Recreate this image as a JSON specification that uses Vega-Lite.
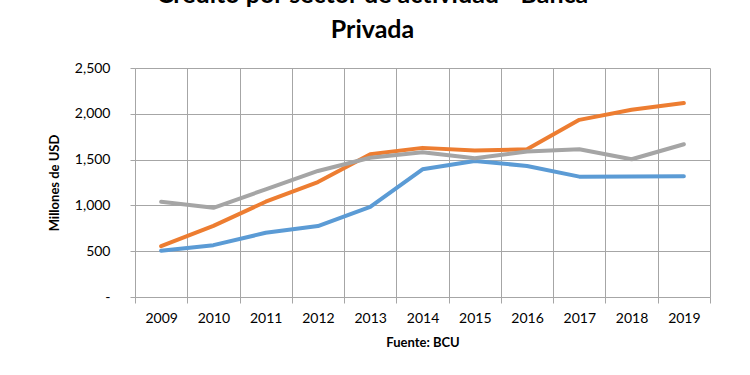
{
  "$schema": "https://vega.github.io/schema/vega-lite/v6.json",
  "width": 575,
  "height": 229,
  "autosize": {"type": "none"},
  "padding": {"left": 135, "top": 68, "right": 40, "bottom": 78},
  "background": "white",
  "title": {
    "text": ["Crédito por sector de actividad - Banca", "Privada"],
    "font": "Lato",
    "fontSize": 25,
    "fontWeight": "bold",
    "lineHeight": 35,
    "color": "#000000",
    "anchor": "middle",
    "dx": -50,
    "offset": 18
  },
  "data": {
    "values": [
      {"year": "2009", "serie": "Serie1", "value": 505},
      {"year": "2010", "serie": "Serie1", "value": 566},
      {"year": "2011", "serie": "Serie1", "value": 701},
      {"year": "2012", "serie": "Serie1", "value": 774},
      {"year": "2013", "serie": "Serie1", "value": 985},
      {"year": "2014", "serie": "Serie1", "value": 1394},
      {"year": "2015", "serie": "Serie1", "value": 1485},
      {"year": "2016", "serie": "Serie1", "value": 1431},
      {"year": "2017", "serie": "Serie1", "value": 1314},
      {"year": "2018", "serie": "Serie1", "value": 1316},
      {"year": "2019", "serie": "Serie1", "value": 1318},
      {"year": "2009", "serie": "Serie2", "value": 555},
      {"year": "2010", "serie": "Serie2", "value": 777},
      {"year": "2011", "serie": "Serie2", "value": 1040},
      {"year": "2012", "serie": "Serie2", "value": 1255},
      {"year": "2013", "serie": "Serie2", "value": 1558},
      {"year": "2014", "serie": "Serie2", "value": 1628},
      {"year": "2015", "serie": "Serie2", "value": 1599},
      {"year": "2016", "serie": "Serie2", "value": 1613},
      {"year": "2017", "serie": "Serie2", "value": 1934},
      {"year": "2018", "serie": "Serie2", "value": 2044},
      {"year": "2019", "serie": "Serie2", "value": 2117},
      {"year": "2009", "serie": "Serie3", "value": 1040},
      {"year": "2010", "serie": "Serie3", "value": 974},
      {"year": "2011", "serie": "Serie3", "value": 1175},
      {"year": "2012", "serie": "Serie3", "value": 1376},
      {"year": "2013", "serie": "Serie3", "value": 1520},
      {"year": "2014", "serie": "Serie3", "value": 1580},
      {"year": "2015", "serie": "Serie3", "value": 1515},
      {"year": "2016", "serie": "Serie3", "value": 1588},
      {"year": "2017", "serie": "Serie3", "value": 1613},
      {"year": "2018", "serie": "Serie3", "value": 1504},
      {"year": "2019", "serie": "Serie3", "value": 1668}
    ]
  },
  "mark": {"type": "line", "strokeWidth": 4, "strokeCap": "round", "strokeJoin": "round"},
  "encoding": {
    "x": {
      "field": "year",
      "type": "ordinal",
      "bandPosition": 0.5,
      "scale": {"type": "band", "paddingInner": 0, "paddingOuter": 0},
      "axis": {
        "title": "Fuente: BCU",
        "titleFont": "Lato",
        "titleFontSize": 13,
        "titleFontWeight": "bold",
        "titleColor": "#000000",
        "titlePadding": 11,
        "labelAngle": 0,
        "labelFont": "Lato",
        "labelFontSize": 14,
        "labelColor": "#000000",
        "labelPadding": 8,
        "tickBand": "extent",
        "tickSize": 6,
        "tickColor": "#A6A6A6",
        "domainColor": "#A6A6A6",
        "grid": true,
        "gridColor": "#A6A6A6",
        "gridWidth": 1
      }
    },
    "y": {
      "field": "value",
      "type": "quantitative",
      "scale": {"domain": [0, 2500], "nice": false},
      "axis": {
        "title": "Millones de USD",
        "titleFont": "Lato",
        "titleFontSize": 13,
        "titleFontWeight": "bold",
        "titleColor": "#000000",
        "titlePadding": 13,
        "values": [0, 500, 1000, 1500, 2000, 2500],
        "labelExpr": "datum.value == 0 ? '-' : format(datum.value, ',')",
        "labelFont": "Lato",
        "labelFontSize": 14,
        "labelColor": "#000000",
        "labelPadding": 20,
        "tickSize": 5,
        "tickColor": "#A6A6A6",
        "domainColor": "#A6A6A6",
        "grid": true,
        "gridColor": "#A6A6A6",
        "gridWidth": 1
      }
    },
    "color": {
      "field": "serie",
      "type": "nominal",
      "scale": {"domain": ["Serie1", "Serie2", "Serie3"], "range": ["#5B9BD5", "#ED7D31", "#A5A5A5"]},
      "legend": null
    }
  },
  "config": {"view": {"stroke": null}}
}
